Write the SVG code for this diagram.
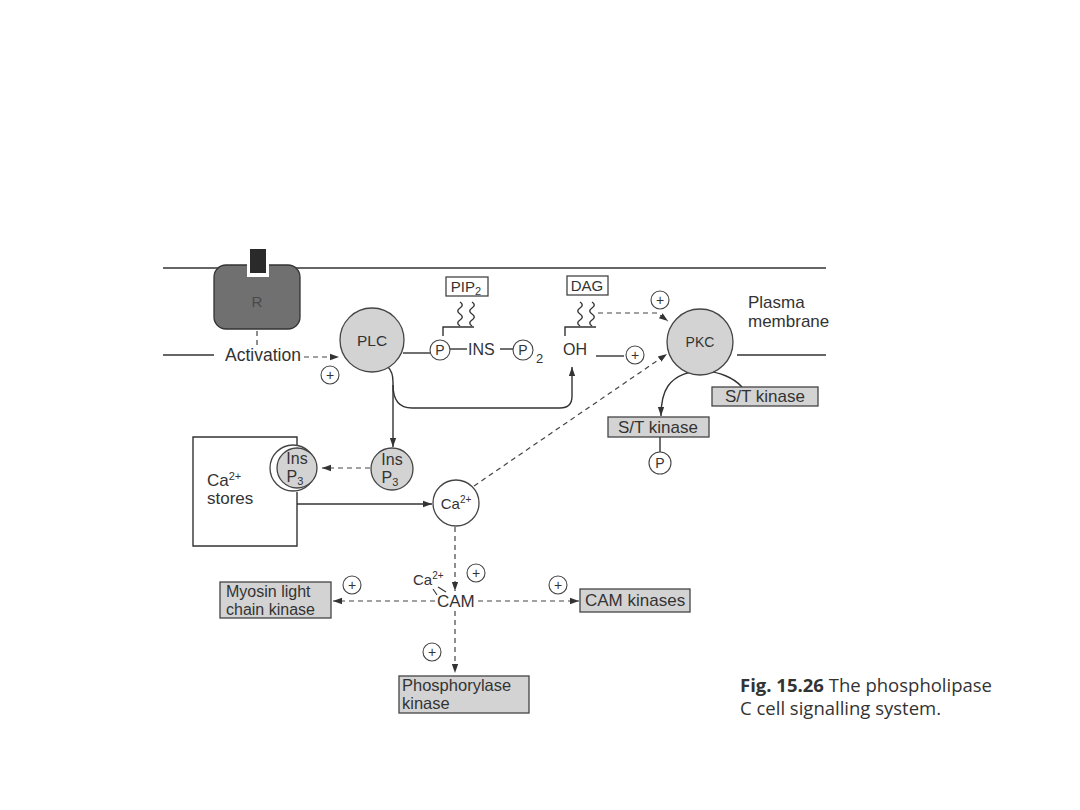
<svg xmlns="http://www.w3.org/2000/svg" width="1080" height="810" viewBox="0 0 1080 810">
<defs>
<marker id="arr" viewBox="0 0 10 10" refX="10" refY="5" markerWidth="9" markerHeight="9" orient="auto" markerUnits="userSpaceOnUse"><path d="M0,1.5 L10,5 L0,8.5 z" fill="#333"/></marker>
</defs>
<style>
.t{font-family:"Liberation Sans",Arial,sans-serif;font-size:17px;fill:#333}
.m{text-anchor:middle}
.ln{stroke:#333;stroke-width:1.4;fill:none}
.dash{stroke:#444;stroke-width:1.2;fill:none;stroke-dasharray:5 4}
.sh{fill:#d3d3d3;stroke:#444;stroke-width:1.3}
.wb{fill:#fff;stroke:#444;stroke-width:1.3}
.pc{fill:#fff;stroke:#444;stroke-width:1.1}
.pt{font-family:"Liberation Sans",Arial,sans-serif;font-size:14px;fill:#333;text-anchor:middle}
.cap{font-family:"Open Sans","Liberation Sans",sans-serif;font-size:18.5px;fill:#333}
</style>
<rect width="1080" height="810" fill="#fff"/>

<g id="membrane">
<line class="ln" x1="163" y1="268" x2="826" y2="268"/>
<line class="ln" x1="163" y1="355" x2="214" y2="355"/>
<line class="ln" x1="737" y1="355" x2="826" y2="355"/>
<text class="t" x="748" y="308">Plasma</text>
<text class="t" x="748" y="327">membrane</text>
</g>

<g id="receptor">
<rect x="214" y="265" width="86" height="64" rx="12" fill="#707070" stroke="#333" stroke-width="1.3"/>
<rect x="247" y="262" width="22" height="15" fill="#fff"/>
<rect x="250" y="249" width="16" height="24" fill="#2a2a2a"/>
<text class="t m" x="257" y="307" style="fill:#4a4a4a;font-size:15px">R</text>
</g>

<g id="connectors">
<line class="dash" x1="257" y1="331" x2="257" y2="349"/>
<line class="dash" x1="304" y1="357" x2="339" y2="357" marker-end="url(#arr)"/>
<line class="ln" x1="403" y1="353" x2="430" y2="353"/>
<line class="ln" x1="450" y1="349" x2="467" y2="349"/>
<line class="ln" x1="500" y1="349" x2="513" y2="349"/>
<path class="ln" d="M443,336 L443,327 L474,327"/>
<path class="ln" d="M565,336 L565,327 L596,327"/>
<path class="ln" d="M460,302 c3,2 3,4 0,6 c-3,2 -3,4 0,6 c3,2 3,4 0,6 c-3,2 -3,4 0,6"/>
<path class="ln" d="M472,302 c3,2 3,4 0,6 c-3,2 -3,4 0,6 c3,2 3,4 0,6 c-3,2 -3,4 0,6"/>
<path class="ln" d="M580,302 c3,2 3,4 0,6 c-3,2 -3,4 0,6 c3,2 3,4 0,6 c-3,2 -3,4 0,6"/>
<path class="ln" d="M592,302 c3,2 3,4 0,6 c-3,2 -3,4 0,6 c3,2 3,4 0,6 c-3,2 -3,4 0,6"/>
<line class="ln" x1="596" y1="356" x2="624" y2="356"/>
<path class="dash" d="M598,313 L657,313 L668,321" marker-end="url(#arr)"/>
<line class="dash" x1="474" y1="486" x2="667" y2="354" marker-end="url(#arr)"/>
<path class="ln" d="M742,387 C725,368 684,364 668,386 Q661,396 661,416" marker-end="url(#arr)"/>
<line class="ln" x1="660" y1="437" x2="660" y2="452"/>
<path class="ln" d="M388,367 Q393,372 393,382 L393,447" marker-end="url(#arr)"/>
<path class="ln" d="M393,385 Q393,408 412,408 L560,408 Q572,408 572,396 L572,367" marker-end="url(#arr)"/>
<line class="dash" x1="370" y1="468" x2="322" y2="468" marker-end="url(#arr)"/>
<line class="ln" x1="297" y1="504" x2="432" y2="504" marker-end="url(#arr)"/>
<line class="dash" x1="455" y1="527" x2="455" y2="591" marker-end="url(#arr)"/>
<line class="dash" x1="435" y1="601" x2="333" y2="601" marker-end="url(#arr)"/>
<line class="dash" x1="478" y1="601" x2="579" y2="601" marker-end="url(#arr)"/>
<line class="dash" x1="455" y1="611" x2="455" y2="673" marker-end="url(#arr)"/>
<path class="ln" d="M433,589 L437,595 M438,587 L446,592" style="stroke-width:1.1"/>
</g>

<g id="activation">
<text class="t" x="225" y="361" style="font-size:17.5px">Activation</text>
</g>

<g id="plc">
<circle class="sh" cx="372" cy="340" r="32"/>
<text class="t m" x="372" y="346" style="font-size:15.5px">PLC</text>
</g>

<g id="pip2">
<rect class="wb" x="446" y="277" width="42" height="19"/>
<text class="t m" x="466" y="292" style="font-size:15px">PIP<tspan font-size="11" dy="3">2</tspan></text>
<circle class="pc" cx="440" cy="350" r="10"/>
<text class="pt" x="440" y="355">P</text>
<text class="t" x="468" y="355" style="font-size:16px">INS</text>
<circle class="pc" cx="523" cy="350" r="10"/>
<text class="pt" x="523" y="355">P</text>
<text class="t" x="536" y="363" style="font-size:13px">2</text>
</g>

<g id="dag">
<rect class="wb" x="567" y="276" width="41" height="19"/>
<text class="t m" x="587" y="291" style="font-size:15px">DAG</text>
<text class="t" x="563" y="355" style="font-size:16px">OH</text>
</g>

<g id="pkc">
<circle class="sh" cx="700" cy="342" r="33"/>
<text class="t m" x="700" y="347" style="font-size:14px">PKC</text>
</g>

<g id="st-kinase-1">
<rect class="sh" x="712" y="387" width="106" height="19"/>
<text class="t m" x="765" y="402">S/T kinase</text>
</g>

<g id="st-kinase-2">
<rect class="sh" x="608" y="417" width="101" height="20"/>
<text class="t m" x="658" y="433">S/T kinase</text>
<circle class="pc" cx="660" cy="463" r="11"/>
<text class="pt" x="660" y="468">P</text>
</g>

<g id="ca-stores">
<path class="ln" d="M297,447 L297,437 L193,437 L193,546 L297,546 L297,492"/>
<text class="t" x="207" y="486">Ca<tspan font-size="11" dy="-6">2+</tspan></text>
<text class="t" x="207" y="504">stores</text>
</g>

<g id="insp3-bound">
<circle class="wb" cx="293" cy="468" r="23"/>
<circle class="sh" cx="297" cy="468" r="20"/>
<text class="t m" x="297" y="464" style="font-size:16px">Ins</text>
<text class="t m" x="295" y="482" style="font-size:16px">P<tspan font-size="11" dy="3">3</tspan></text>
</g>

<g id="insp3">
<circle class="sh" cx="392" cy="469" r="21"/>
<text class="t m" x="392" y="465" style="font-size:16px">Ins</text>
<text class="t m" x="390" y="483" style="font-size:16px">P<tspan font-size="11" dy="3">3</tspan></text>
</g>

<g id="ca">
<circle class="wb" cx="456" cy="503" r="23"/>
<text class="t m" x="456" y="509" style="font-size:15px">Ca<tspan font-size="10" dy="-6">2+</tspan></text>
</g>

<g id="cam">
<text class="t" x="413" y="585" style="font-size:15px">Ca<tspan font-size="10" dy="-6">2+</tspan></text>
<text class="t" x="437" y="607">CAM</text>
</g>

<g id="myosin">
<rect class="sh" x="220" y="582" width="111" height="36"/>
<text class="t" x="226" y="597" style="font-size:16px">Myosin light</text>
<text class="t" x="226" y="615" style="font-size:16px">chain kinase</text>
</g>

<g id="cam-kinases">
<rect class="sh" x="580" y="589" width="110" height="23"/>
<text class="t" x="585" y="606">CAM kinases</text>
</g>

<g id="phosphorylase">
<rect class="sh" x="399" y="676" width="130" height="37"/>
<text class="t" x="402" y="691" style="font-size:16.5px">Phosphorylase</text>
<text class="t" x="402" y="709" style="font-size:16.5px">kinase</text>
</g>

<g id="plus-signs">
<circle class="pc" cx="330" cy="375" r="9"/><text class="pt" x="330" y="380">+</text>
<circle class="pc" cx="660" cy="300" r="9"/><text class="pt" x="660" y="305">+</text>
<circle class="pc" cx="635" cy="355" r="9"/><text class="pt" x="635" y="360">+</text>
<circle class="pc" cx="476" cy="573" r="9"/><text class="pt" x="476" y="578">+</text>
<circle class="pc" cx="352" cy="585" r="9"/><text class="pt" x="352" y="590">+</text>
<circle class="pc" cx="558" cy="585" r="9"/><text class="pt" x="558" y="590">+</text>
<circle class="pc" cx="432" cy="652" r="9"/><text class="pt" x="432" y="657">+</text>
</g>

<g id="caption">
<text class="cap" x="740" y="692"><tspan font-weight="bold">Fig. 15.26</tspan>  The phospholipase</text>
<text class="cap" x="740" y="715">C cell signalling system.</text>
</g>
</svg>
